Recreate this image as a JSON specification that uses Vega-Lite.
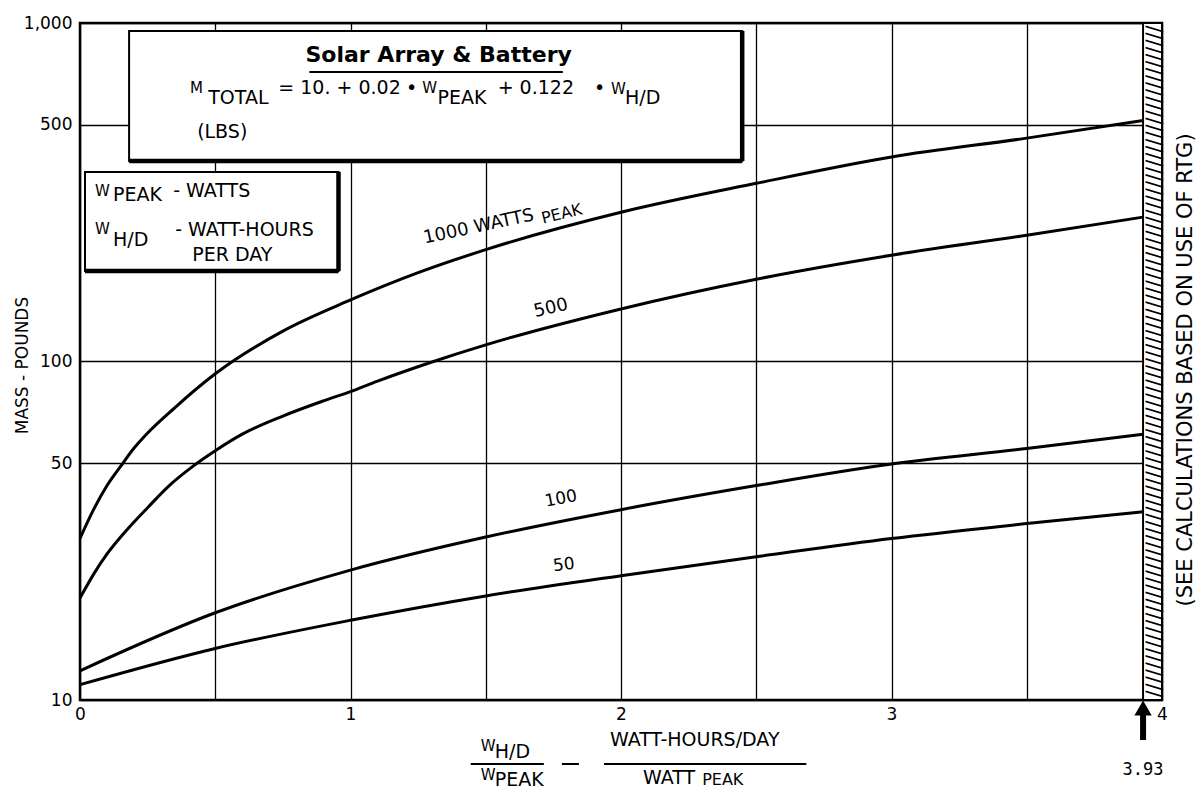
{
  "$schema": "https://vega.github.io/schema/vega-lite/v6.json",
  "width": 1082,
  "height": 677,
  "autosize": {"type": "none"},
  "padding": {"left": 80, "top": 23, "right": 39, "bottom": 94},
  "background": "white",
  "config": {
    "font": "DejaVu Sans",
    "view": {"stroke": "black", "strokeWidth": 2.5},
    "axis": {"labelColor": "black", "titleColor": "black", "labelFont": "DejaVu Sans", "titleFont": "DejaVu Sans"}
  },
  "datasets": {
    "curves": [
      {"series": "1000", "r": 0, "m": 30}, {"series": "1000", "r": 0.05, "m": 36.5}, {"series": "1000", "r": 0.1, "m": 43}, {"series": "1000", "r": 0.15, "m": 49}, {"series": "1000", "r": 0.2, "m": 55.5}, {"series": "1000", "r": 0.25, "m": 61.5}, {"series": "1000", "r": 0.35, "m": 73}, {"series": "1000", "r": 0.5, "m": 92}, {"series": "1000", "r": 0.75, "m": 123}, {"series": "1000", "r": 1, "m": 152}, {"series": "1000", "r": 1.25, "m": 183}, {"series": "1000", "r": 1.5, "m": 214}, {"series": "1000", "r": 2, "m": 276}, {"series": "1000", "r": 2.5, "m": 336}, {"series": "1000", "r": 3, "m": 402}, {"series": "1000", "r": 3.5, "m": 457}, {"series": "1000", "r": 3.93, "m": 515},
      {"series": "500", "r": 0, "m": 20}, {"series": "500", "r": 0.05, "m": 23.5}, {"series": "500", "r": 0.1, "m": 27}, {"series": "500", "r": 0.173, "m": 31.8}, {"series": "500", "r": 0.25, "m": 37}, {"series": "500", "r": 0.33, "m": 43}, {"series": "500", "r": 0.417, "m": 49}, {"series": "500", "r": 0.5, "m": 54.5}, {"series": "500", "r": 0.6, "m": 61}, {"series": "500", "r": 0.75, "m": 69}, {"series": "500", "r": 0.9, "m": 76.5}, {"series": "500", "r": 1, "m": 81.5}, {"series": "500", "r": 1.1, "m": 87.5}, {"series": "500", "r": 1.29, "m": 99}, {"series": "500", "r": 1.5, "m": 112}, {"series": "500", "r": 2, "m": 143}, {"series": "500", "r": 2.5, "m": 175}, {"series": "500", "r": 3, "m": 206}, {"series": "500", "r": 3.5, "m": 236}, {"series": "500", "r": 3.93, "m": 267},
      {"series": "100", "r": 0, "m": 12.2}, {"series": "100", "r": 0.5, "m": 18.1}, {"series": "100", "r": 1, "m": 24.2}, {"series": "100", "r": 1.5, "m": 30.3}, {"series": "100", "r": 2, "m": 36.5}, {"series": "100", "r": 2.5, "m": 43}, {"series": "100", "r": 3, "m": 49.8}, {"series": "100", "r": 3.5, "m": 55.3}, {"series": "100", "r": 3.93, "m": 61},
      {"series": "50", "r": 0, "m": 11.1}, {"series": "50", "r": 0.5, "m": 14.2}, {"series": "50", "r": 1, "m": 17.2}, {"series": "50", "r": 1.5, "m": 20.3}, {"series": "50", "r": 2, "m": 23.3}, {"series": "50", "r": 2.5, "m": 26.5}, {"series": "50", "r": 3, "m": 30}, {"series": "50", "r": 3.5, "m": 33.2}, {"series": "50", "r": 3.93, "m": 36}
    ],
    "boxes": [
      {"box": "formula", "x1": 0.1815, "x2": 2.448, "y1": 947, "y2": 391},
      {"box": "legend", "x1": 0.0185, "x2": 0.9556, "y1": 363, "y2": 185}
    ],
    "band": [
      {"x1": 3.93, "x2": 4, "y1": 1000, "y2": 10, "xc": 3.965, "yc": 100}
    ],
    "clabels": [
      {"id": "1000", "t": "1000 WATTS", "r": 1.474, "m": 249.7},
      {"id": "peak", "t": "PEAK", "r": 1.781, "m": 272.7},
      {"id": "500", "t": "500", "r": 1.741, "m": 143.6},
      {"id": "100", "t": "100", "r": 1.778, "m": 39.3},
      {"id": "50", "t": "50", "r": 1.789, "m": 25.05}
    ],
    "texts": [
      {"role": "title", "t": "Solar Array & Battery", "r": 1.326, "m": 805},
      {"role": "small", "t": "M", "r": 0.407, "m": 643},
      {"role": "sub", "t": "TOTAL", "r": 0.474, "m": 600},
      {"role": "main", "t": "= 10. + 0.02", "r": 0.733, "m": 643},
      {"role": "main", "t": "•", "r": 1.205, "m": 643},
      {"role": "small", "t": "W", "r": 1.265, "m": 643},
      {"role": "sub", "t": "PEAK", "r": 1.322, "m": 600},
      {"role": "main", "t": "+ 0.122", "r": 1.544, "m": 643},
      {"role": "main", "t": "•", "r": 1.9, "m": 643},
      {"role": "small", "t": "W", "r": 1.963, "m": 638},
      {"role": "sub", "t": "H/D", "r": 2.015, "m": 600},
      {"role": "main", "t": "(LBS)", "r": 0.433, "m": 476},
      {"role": "small", "t": "W", "r": 0.0556, "m": 319},
      {"role": "sub", "t": "PEAK", "r": 0.1222, "m": 310},
      {"role": "sub", "t": "- WATTS", "r": 0.3444, "m": 319},
      {"role": "small", "t": "W", "r": 0.0556, "m": 246},
      {"role": "sub", "t": "H/D", "r": 0.1222, "m": 228.5},
      {"role": "sub", "t": "- WATT-HOURS", "r": 0.3519, "m": 244.6},
      {"role": "sub", "t": "PER DAY", "r": 0.4148, "m": 206.4},
      {"role": "small", "t": "W", "r": 1.4815, "m": 7.313},
      {"role": "sub", "t": "H/D", "r": 1.5333, "m": 7.022},
      {"role": "small", "t": "W", "r": 1.4815, "m": 6.004},
      {"role": "sub", "t": "PEAK", "r": 1.5333, "m": 5.804},
      {"role": "sub", "t": "WATT-HOURS/DAY", "r": 1.9593, "m": 7.617},
      {"role": "sub", "t": "WATT", "r": 2.0815, "m": 5.9},
      {"role": "sub16", "t": "PEAK", "r": 2.3, "m": 5.804}
    ],
    "bars": [
      {"x1": 0.848, "x2": 1.785, "y": 716},
      {"x1": 1.4444, "x2": 1.7148, "y": 6.471},
      {"x1": 1.7815, "x2": 1.8444, "y": 6.471},
      {"x1": 1.937, "x2": 2.6852, "y": 6.471}
    ],
    "arrow": [
      {"r": 3.93, "top": 9.215, "bot": 7.617, "head": 9.47, "lab": 6.212, "t": "3.93"}
    ],
    "note": [
      {"t": "(SEE CALCULATIONS BASED ON USE OF RTG)", "r": 4.089, "m": 94.4}
    ]
  },
  "layer": [
    {
      "data": {"name": "curves"},
      "mark": {"type": "line", "color": "black", "strokeWidth": 3, "interpolate": "monotone"},
      "encoding": {
        "x": {
          "field": "r", "type": "quantitative",
          "scale": {"domain": [0, 4], "nice": false, "zero": false},
          "axis": {
            "values": [0, 0.5, 1, 1.5, 2, 2.5, 3, 3.5, 4],
            "labelExpr": "datum.value % 1 == 0 ? format(datum.value, 'd') : ''",
            "grid": true, "gridColor": "black", "gridWidth": 1.3, "gridOpacity": 1,
            "ticks": false, "domain": false, "labelFontSize": 17, "labelPadding": 6,
            "labelFlush": false, "labelOverlap": false, "title": null
          }
        },
        "y": {
          "field": "m", "type": "quantitative",
          "scale": {"type": "log", "domain": [10, 1000], "nice": false},
          "axis": {
            "values": [10, 50, 100, 500, 1000], "format": ",",
            "grid": true, "gridColor": "black", "gridWidth": 1.3, "gridOpacity": 1,
            "ticks": false, "domain": false, "labelFontSize": 17, "labelPadding": 8,
            "labelFlush": false, "labelOverlap": false,
            "title": "MASS - POUNDS", "titleFontSize": 17, "titleFontWeight": "normal",
            "titleX": -58, "titleY": 342, "titleAngle": 270, "titleAlign": "center", "titleBaseline": "middle"
          }
        },
        "detail": {"field": "series"}
      }
    },
    {
      "data": {"name": "boxes"},
      "mark": {"type": "rect", "fill": "white", "stroke": "black", "strokeWidth": 2},
      "encoding": {
        "x": {"field": "x1", "type": "quantitative"}, "x2": {"field": "x2"},
        "y": {"field": "y1", "type": "quantitative"}, "y2": {"field": "y2"}
      }
    },
    {
      "data": {"name": "boxes"},
      "mark": {"type": "rule", "color": "black", "strokeWidth": 4.5},
      "encoding": {
        "x": {"field": "x2", "type": "quantitative"},
        "y": {"field": "y1", "type": "quantitative"}, "y2": {"field": "y2"}
      }
    },
    {
      "data": {"name": "boxes"},
      "mark": {"type": "rule", "color": "black", "strokeWidth": 4.5},
      "encoding": {
        "x": {"field": "x1", "type": "quantitative"}, "x2": {"field": "x2"},
        "y": {"field": "y2", "type": "quantitative"}
      }
    },
    {
      "data": {"name": "band"},
      "mark": {"type": "rect", "fill": "white", "stroke": "black", "strokeWidth": 2},
      "encoding": {
        "x": {"field": "x1", "type": "quantitative"}, "x2": {"field": "x2"},
        "y": {"field": "y1", "type": "quantitative"}, "y2": {"field": "y2"}
      }
    },
    {
      "data": {"name": "band"},
      "mark": {"type": "text", "angle": 90, "fontSize": 21, "align": "center", "baseline": "middle", "color": "black",
        "text": "///////////////////////////////////////////////////////////////////////////////////////////////"},
      "encoding": {
        "x": {"field": "xc", "type": "quantitative"},
        "y": {"field": "yc", "type": "quantitative"}
      }
    },
    {
      "data": {"name": "clabels"},
      "transform": [{"filter": "datum.id == '1000'"}],
      "mark": {"type": "text", "angle": -12, "fontSize": 18, "align": "center", "baseline": "middle"},
      "encoding": {"x": {"field": "r", "type": "quantitative"}, "y": {"field": "m", "type": "quantitative"}, "text": {"field": "t"}}
    },
    {
      "data": {"name": "clabels"},
      "transform": [{"filter": "datum.id == 'peak'"}],
      "mark": {"type": "text", "angle": -14, "fontSize": 16, "align": "center", "baseline": "middle"},
      "encoding": {"x": {"field": "r", "type": "quantitative"}, "y": {"field": "m", "type": "quantitative"}, "text": {"field": "t"}}
    },
    {
      "data": {"name": "clabels"},
      "transform": [{"filter": "datum.id == '500'"}],
      "mark": {"type": "text", "angle": -13, "fontSize": 18, "align": "center", "baseline": "middle"},
      "encoding": {"x": {"field": "r", "type": "quantitative"}, "y": {"field": "m", "type": "quantitative"}, "text": {"field": "t"}}
    },
    {
      "data": {"name": "clabels"},
      "transform": [{"filter": "datum.id == '100'"}],
      "mark": {"type": "text", "angle": -11, "fontSize": 17, "align": "center", "baseline": "middle"},
      "encoding": {"x": {"field": "r", "type": "quantitative"}, "y": {"field": "m", "type": "quantitative"}, "text": {"field": "t"}}
    },
    {
      "data": {"name": "clabels"},
      "transform": [{"filter": "datum.id == '50'"}],
      "mark": {"type": "text", "angle": -7, "fontSize": 17, "align": "center", "baseline": "middle"},
      "encoding": {"x": {"field": "r", "type": "quantitative"}, "y": {"field": "m", "type": "quantitative"}, "text": {"field": "t"}}
    },
    {
      "data": {"name": "texts"},
      "transform": [{"filter": "datum.role == 'title'"}],
      "mark": {"type": "text", "fontSize": 22, "fontWeight": "bold", "align": "center", "baseline": "middle"},
      "encoding": {"x": {"field": "r", "type": "quantitative"}, "y": {"field": "m", "type": "quantitative"}, "text": {"field": "t"}}
    },
    {
      "data": {"name": "texts"},
      "transform": [{"filter": "datum.role == 'main'"}],
      "mark": {"type": "text", "fontSize": 19, "align": "left", "baseline": "middle"},
      "encoding": {"x": {"field": "r", "type": "quantitative"}, "y": {"field": "m", "type": "quantitative"}, "text": {"field": "t"}}
    },
    {
      "data": {"name": "texts"},
      "transform": [{"filter": "datum.role == 'small'"}],
      "mark": {"type": "text", "fontSize": 15, "align": "left", "baseline": "middle"},
      "encoding": {"x": {"field": "r", "type": "quantitative"}, "y": {"field": "m", "type": "quantitative"}, "text": {"field": "t"}}
    },
    {
      "data": {"name": "texts"},
      "transform": [{"filter": "datum.role == 'sub'"}],
      "mark": {"type": "text", "fontSize": 19, "align": "left", "baseline": "middle"},
      "encoding": {"x": {"field": "r", "type": "quantitative"}, "y": {"field": "m", "type": "quantitative"}, "text": {"field": "t"}}
    },
    {
      "data": {"name": "texts"},
      "transform": [{"filter": "datum.role == 'sub16'"}],
      "mark": {"type": "text", "fontSize": 16, "align": "left", "baseline": "middle"},
      "encoding": {"x": {"field": "r", "type": "quantitative"}, "y": {"field": "m", "type": "quantitative"}, "text": {"field": "t"}}
    },
    {
      "data": {"name": "bars"},
      "mark": {"type": "rule", "color": "black", "strokeWidth": 2},
      "encoding": {
        "x": {"field": "x1", "type": "quantitative"}, "x2": {"field": "x2"},
        "y": {"field": "y", "type": "quantitative"}
      }
    },
    {
      "data": {"name": "arrow"},
      "mark": {"type": "rule", "color": "black", "strokeWidth": 6},
      "encoding": {
        "x": {"field": "r", "type": "quantitative"},
        "y": {"field": "top", "type": "quantitative"}, "y2": {"field": "bot"}
      }
    },
    {
      "data": {"name": "arrow"},
      "mark": {"type": "point", "shape": "triangle-up", "filled": true, "color": "black", "opacity": 1, "size": 300},
      "encoding": {
        "x": {"field": "r", "type": "quantitative"},
        "y": {"field": "head", "type": "quantitative"}
      }
    },
    {
      "data": {"name": "arrow"},
      "mark": {"type": "text", "font": "DejaVu Sans Mono", "fontSize": 17, "align": "center", "baseline": "middle"},
      "encoding": {
        "x": {"field": "r", "type": "quantitative"},
        "y": {"field": "lab", "type": "quantitative"},
        "text": {"field": "t"}
      }
    },
    {
      "data": {"name": "note"},
      "mark": {"type": "text", "angle": 270, "fontSize": 21, "align": "center", "baseline": "middle"},
      "encoding": {
        "x": {"field": "r", "type": "quantitative"},
        "y": {"field": "m", "type": "quantitative"},
        "text": {"field": "t"}
      }
    }
  ]
}
